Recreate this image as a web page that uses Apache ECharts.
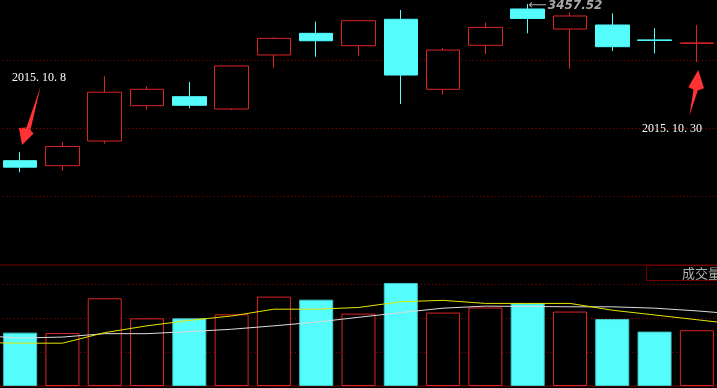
<!DOCTYPE html>
<html>
<head>
<meta charset="utf-8">
<script src="https://cdn.jsdelivr.net/npm/echarts@6.0.0/dist/echarts.min.js"></script>
<style>
html,body{margin:0;padding:0;background:#000;}
#c{width:717px;height:388px;}
</style>
</head>
<body>
<div id="c"></div>
<script>
// ---- data ----
var dates = ['2015-10-08','2015-10-09','2015-10-12','2015-10-13','2015-10-14','2015-10-15','2015-10-16',
  '2015-10-19','2015-10-20','2015-10-21','2015-10-22','2015-10-23','2015-10-26','2015-10-27',
  '2015-10-28','2015-10-29','2015-10-30'];
var opens  = [3155.8, 3146.2, 3193.7, 3261.7, 3279.0, 3255.3, 3359.3, 3401.0, 3377.2, 3428.0, 3293.2, 3377.9, 3447.8, 3409.3, 3417.0, 3388.3, 3381.6];
var closes = [3143.36, 3183.15, 3287.66, 3293.23, 3262.44, 3338.07, 3391.35, 3386.70, 3425.33, 3320.68, 3368.74, 3412.43, 3429.58, 3434.34, 3375.20, 3387.32, 3382.56];
var lows   = [3133.5, 3136.5, 3188.5, 3254.0, 3256.7, 3253.4, 3334.8, 3356.0, 3357.9, 3264.9, 3282.8, 3361.2, 3401.0, 3332.9, 3367.0, 3362.5, 3345.8];
var highs  = [3172.0, 3191.8, 3318.3, 3299.0, 3307.3, 3338.3, 3393.3, 3423.4, 3425.5, 3445.9, 3372.7, 3421.4, 3457.52, 3441.5, 3439.5, 3410.7, 3417.0];
var volumes = [1.57, 1.56, 2.58, 1.99, 1.99, 2.11, 2.63, 2.54, 2.13, 3.03, 2.16, 2.31, 2.43, 2.19, 1.97, 1.60, 1.64];
var volMaYellow = [1.26, 1.26, 1.57, 1.77, 1.93, 2.06, 2.26, 2.26, 2.31, 2.48, 2.52, 2.43, 2.43, 2.43, 2.23, 2.09, 1.95];
var volMaWhite  = [1.41, 1.44, 1.54, 1.54, 1.60, 1.67, 1.77, 1.88, 2.02, 2.16, 2.29, 2.35, 2.34, 2.33, 2.33, 2.29, 2.21];
// moving-average values at the left and right edges of the window (continuing outside the 17 days)
var volMaYellowEdges = [1.27, 1.88];
var volMaWhiteEdges  = [1.45, 2.16];
var startLabel = '2015. 10. 8';
var endLabel = '2015. 10. 30';
var volTitle = '成交量';

// ---- styles ----
var RED = '#DC2424', CYAN = '#54FCFC', GRIDRED = '#a00000', DARKRED = '#720000';

var kData = dates.map(function(d, i){ return [opens[i], closes[i], lows[i], highs[i]]; });
var volData = volumes.map(function(v, i){
  var up = closes[i] >= opens[i];
  return { value: v, itemStyle: up ? {color:'#000', borderColor: RED, borderWidth: 1} : {color: CYAN, borderColor: '#3fc8c8', borderWidth: 1} };
});
function maSeriesData(vals, edges){
  var n = vals.length;
  return [[-0.5, edges[0]]].concat(vals.map(function(v, i){ return [i, v]; })).concat([[n - 0.5, edges[1]]]);
}

var chart = echarts.init(document.getElementById('c'), null, {renderer:'canvas'});
var dotted = { color: GRIDRED, width: 1, type: [1, 2.7] };
var option = {
  backgroundColor: '#000',
  animation: false,
  grid: [
    { left: -1, width: 719, top: -8, height: 272, outerBoundsMode: 'none', containLabel: false },
    { left: -1, width: 719, top: 265, height: 121, outerBoundsMode: 'none', containLabel: false,
      show: true, borderColor: DARKRED, borderWidth: 1, backgroundColor: 'transparent' }
  ],
  xAxis: [
    { type: 'category', gridIndex: 0, data: dates, boundaryGap: true, show: false },
    { type: 'category', gridIndex: 1, data: dates, boundaryGap: true, show: false },
    { type: 'value', gridIndex: 1, min: -0.5, max: dates.length - 0.5, show: false, splitLine: {show: false} }
  ],
  yAxis: [
    { type: 'value', gridIndex: 0, min: 2956.9, max: 3480.54, show: false, splitLine: {show: false} },
    { type: 'value', gridIndex: 0, min: 0, max: 4, interval: 1, axisLine:{show:false}, axisTick:{show:false}, axisLabel:{show:false},
      splitLine: { show: true, showMinLine: false, showMaxLine: false, lineStyle: dotted } },
    { type: 'value', gridIndex: 1, min: 0, max: 3.56, interval: 1, axisLine:{show:false}, axisTick:{show:false}, axisLabel:{show:false},
      splitLine: { show: true, showMinLine: false, showMaxLine: false, lineStyle: dotted } }
  ],
  series: [
    {
      type: 'candlestick', xAxisIndex: 0, yAxisIndex: 0, data: kData, barWidth: 34,
      itemStyle: { color: '#000', color0: CYAN, borderColor: RED, borderColor0: CYAN, borderWidth: 1 },
      markPoint: {
        symbol: 'circle', symbolSize: 1,
        itemStyle: { color: 'transparent' },
        data: [{ type: 'max', valueDim: 'highest' }],
        label: {
          show: true, position: 'right', distance: 0, offset: [0, 2],
          formatter: function(p){ return '{a|⟵}{b|' + Number(p.value).toFixed(2) + '}'; },
          rich: {
            a: { color: '#a8a8a8', fontSize: 13, fontFamily: 'DejaVu Sans', padding:[0,1,0,0] },
            b: { color: '#a8a8a8', fontSize: 12, fontFamily: 'DejaVu Sans', fontStyle: 'italic', fontWeight: 'bold' }
          }
        }
      }
    },
    { type: 'bar', xAxisIndex: 1, yAxisIndex: 2, data: volData, barWidth: 34 },
    { type: 'line', xAxisIndex: 2, yAxisIndex: 2, data: maSeriesData(volMaWhite, volMaWhiteEdges), symbol: 'none', lineStyle: { color: '#dcdcdc', width: 1 } },
    { type: 'line', xAxisIndex: 2, yAxisIndex: 2, data: maSeriesData(volMaYellow, volMaYellowEdges), symbol: 'none', lineStyle: { color: '#e6e600', width: 1 } }
  ],
  graphic: [
    { type: 'text', left: 12, top: 72, style: { text: startLabel, fill: '#ffffff', font: '12px "Liberation Serif"' } },
    { type: 'text', left: 642, top: 123, style: { text: endLabel, fill: '#ffffff', font: '12px "Liberation Serif"' } },
    { type: 'polygon', shape: { points: [[40.7,86],[30.5,130],[33.5,133.5],[22,145],[19,128],[26.5,127.5]] }, style: { fill: '#FF3333' } },
    { type: 'polygon', shape: { points: [[689.3,116],[693.5,89.5],[688.3,87.3],[698.3,70],[704,88.3],[697.8,90.5]] }, style: { fill: '#FF3333' } },
    { type: 'rect', shape: { x: 646.5, y: 265.5, width: 80, height: 15 }, style: { fill: 'transparent', stroke: DARKRED, lineWidth: 1 } },
    { type: 'text', left: 682, top: 267, style: { text: volTitle, fill: '#b0b0b0', font: '13px "Noto Sans CJK SC"' } }
  ]
};
chart.setOption(option);
</script>
</body>
</html>
